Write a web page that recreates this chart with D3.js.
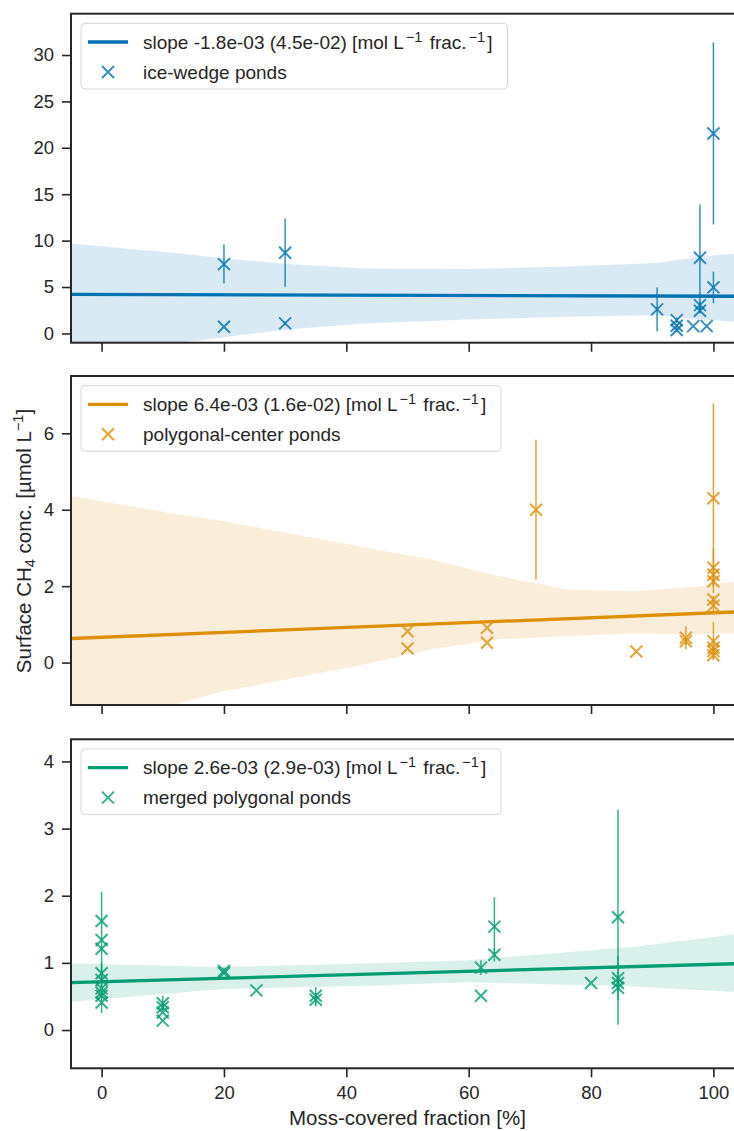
<!DOCTYPE html>
<html>
<head>
<meta charset="utf-8">
<script src="https://cdn.jsdelivr.net/npm/d3@7"></script>
<style>
  body { margin: 0; background: #fff; }
  text { font-family: "Liberation Sans", Arial, sans-serif; fill: #262626; }
</style>
</head>
<body>
<script>
// ice-wedge ponds
var iceX = [20, 20, 30, 30, 90.8, 94, 94, 94, 96.7, 97.8, 97.8, 97.8, 98.9, 100, 100];
var iceY = [7.47, 0.71, 8.69, 1.08, 2.59, 1.43, 0.82, 0.36, 0.79, 8.15, 3.05, 2.44, 0.79, 21.55, 4.96];
var iceErr = [2.1, 0, 3.7, 0.2, 2.35, 0.3, 0.2, 0.2, 0, 5.75, 0.4, 0.3, 0, 9.8, 1.7];
var iceFit = [4.19, -0.0018]; // intercept, slope
var iceBand = [[-5, -2.6, 9.7], [13, -1.0, 8.6], [20, -0.4, 8.1], [30, 0.4, 7.5], [43, 1.08, 7.0],
  [60, 1.5, 6.95], [76, 1.8, 7.2], [90.6, 1.97, 7.6], [98, 1.5, 8.25], [105, 1.2, 8.7]];

// polygonal-center ponds
var pcX = [50, 50, 63, 63, 71, 87.4, 95.5, 95.5, 100, 100, 100, 100, 100, 100, 100, 100, 100, 100];
var pcY = [0.82, 0.37, 0.91, 0.52, 4.0, 0.29, 0.65, 0.56, 4.3, 2.48, 2.3, 2.13, 1.65, 1.49, 0.56, 0.39, 0.3, 0.19];
var pcErr = [0, 0, 0, 0, 1.83, 0, 0.3, 0.1, 2.48, 0.5, 0.1, 0.1, 0.1, 0.2, 0.5, 0.1, 0.1, 0.1];
var pcFit = [0.662, 0.0064];
var pcBand = [[-5, -2.8, 4.36], [11.7, -1.11, 3.9], [20, -0.75, 3.7], [43.4, -0.04, 3.0], [54, 0.35, 2.7],
  [65, 0.61, 2.26], [76, 0.69, 1.91], [87, 0.76, 1.87], [97.8, 0.74, 2.0], [105, 0.78, 2.15]];

// merged polygonal ponds
var mpX = [0, 0, 0, 0, 0, 0, 0, 0, 0, 10, 10, 10, 10, 20, 20, 25.3, 35, 35, 62, 62, 64.2, 64.2, 80, 84.4, 84.4, 84.4, 84.4];
var mpY = [1.625, 1.34, 1.21, 0.845, 0.745, 0.62, 0.56, 0.51, 0.41, 0.4, 0.34, 0.26, 0.14, 0.88, 0.85, 0.59, 0.51, 0.45,
  0.93, 0.51, 1.54, 1.12, 0.7, 1.68, 0.77, 0.7, 0.63];
var mpErr = [0, 0.72, 0, 0.15, 0, 0, 0.31, 0, 0, 0.11, 0.05, 0, 0, 0.05, 0, 0, 0.13, 0.1,
  0.11, 0, 0.44, 0.1, 0, 1.6, 0.33, 0.1, 0];
var mpFit = [0.718, 0.0026];
var mpBand = [[-5, 0.42, 0.99], [20, 0.61, 0.94], [43.4, 0.66, 0.99], [59.7, 0.71, 1.04], [87, 0.65, 1.24], [105, 0.56, 1.44]];

var xTicks = [0, 20, 40, 60, 80, 100];
var sup = "\u22121";

var panels = [
  { x: iceX, y: iceY, err: iceErr, fit: iceFit, band: iceBand, color: "#0173b2",
    ydom: [-1.0, 34.45], yticks: [0, 5, 10, 15, 20, 25, 30], top: 13.7,
    slope: "slope -1.8e-03 (4.5e-02) [mol L", name: "ice-wedge ponds" },
  { x: pcX, y: pcY, err: pcErr, fit: pcFit, band: pcBand, color: "#de8f05",
    ydom: [-1.11, 7.5], yticks: [0, 2, 4, 6], top: 376,
    slope: "slope 6.4e-03 (1.6e-02) [mol L", name: "polygonal-center ponds" },
  { x: mpX, y: mpY, err: mpErr, fit: mpFit, band: mpBand, color: "#029e73",
    ydom: [-0.57, 4.33], yticks: [0, 1, 2, 3, 4], top: 739.3,
    slope: "slope 2.6e-03 (2.9e-03) [mol L", name: "merged polygonal ponds" }
];

var W = 734, H = 1131, left = 71, right = 744, ph = 329;
var tickFont = "18.5px", legFont = "19px", supFont = "14.5px", labFont = "20.5px";
var svg = d3.select("body").append("svg").attr("width", W).attr("height", H);
var x = d3.scaleLinear().domain([-5, 105]).range([left, right]);

function xmark(g, cx, cy, s, color, op) {
  g.append("path")
    .attr("d", "M" + (cx - s) + "," + (cy - s) + "L" + (cx + s) + "," + (cy + s) +
      "M" + (cx - s) + "," + (cy + s) + "L" + (cx + s) + "," + (cy - s))
    .attr("stroke", color).attr("stroke-width", 2).attr("fill", "none").attr("opacity", op);
}

panels.forEach(function (p, i) {
  var top = p.top, bottom = top + ph;
  var y = d3.scaleLinear().domain(p.ydom).range([bottom, top]);
  var g = svg.append("g");
  var clipId = "clip" + i;
  svg.append("clipPath").attr("id", clipId).append("rect")
    .attr("x", left).attr("y", top).attr("width", right - left).attr("height", ph);
  var plot = g.append("g").attr("clip-path", "url(#" + clipId + ")");

  // confidence band
  plot.append("path").datum(p.band)
    .attr("d", d3.area().x(function (d) { return x(d[0]); })
      .y0(function (d) { return y(d[1]); }).y1(function (d) { return y(d[2]); }))
    .attr("fill", p.color).attr("fill-opacity", 0.15);

  // error bars + markers
  p.x.forEach(function (xv, k) {
    if (p.err[k] > 0) {
      plot.append("line")
        .attr("x1", x(xv)).attr("x2", x(xv))
        .attr("y1", y(p.y[k] - p.err[k])).attr("y2", y(p.y[k] + p.err[k]))
        .attr("stroke", p.color).attr("stroke-width", 1.5).attr("opacity", 0.8);
    }
    xmark(plot, x(xv), y(p.y[k]), 6, p.color, 0.8);
  });

  // fit line
  plot.append("line")
    .attr("x1", x(-5)).attr("x2", x(105))
    .attr("y1", y(p.fit[0] + p.fit[1] * -5)).attr("y2", y(p.fit[0] + p.fit[1] * 105))
    .attr("stroke", p.color).attr("stroke-width", 3.3);

  // axes
  var ya = g.append("g").attr("transform", "translate(" + left + ",0)")
    .call(d3.axisLeft(y).tickValues(p.yticks).tickSize(9).tickPadding(8).tickFormat(d3.format("d")));
  var xa = g.append("g").attr("transform", "translate(0," + bottom + ")")
    .call(d3.axisBottom(x).tickValues(xTicks).tickSize(9).tickPadding(8.5)
      .tickFormat(i === 2 ? d3.format("d") : function () { return ""; }));
  [ya, xa].forEach(function (a) {
    a.select(".domain").remove();
    a.selectAll(".tick line").attr("stroke", "#262626").attr("stroke-width", 1.6);
    a.selectAll(".tick text").attr("font-size", tickFont).attr("fill", "#262626")
      .style("font-family", "'Liberation Sans', Arial, sans-serif");
  });

  // spines
  g.append("rect").attr("x", left).attr("y", top).attr("width", right - left).attr("height", ph)
    .attr("fill", "none").attr("stroke", "#262626").attr("stroke-width", 2);

  // legend
  var lg = g.append("g").attr("transform", "translate(81," + (top + 9.6) + ")");
  var box = lg.append("rect").attr("height", 65.7).attr("rx", 4)
    .attr("fill", "#fff").attr("fill-opacity", 0.8).attr("stroke", "#d6d6d6").attr("stroke-width", 1);
  lg.append("line").attr("x1", 7).attr("x2", 47).attr("y1", 18.7).attr("y2", 18.7)
    .attr("stroke", p.color).attr("stroke-width", 3.3);
  xmark(lg, 27, 48.7, 6, p.color, 0.8);
  var t1 = lg.append("text").attr("x", 62).attr("y", 25.4).attr("font-size", legFont);
  t1.append("tspan").text(p.slope);
  t1.append("tspan").attr("dx", 2).attr("dy", -7).attr("font-size", supFont).text(sup);
  t1.append("tspan").attr("dx", 2).attr("dy", 7).text(" frac.");
  t1.append("tspan").attr("dx", 2).attr("dy", -7).attr("font-size", supFont).text(sup);
  t1.append("tspan").attr("dx", 2).attr("dy", 7).text("]");
  lg.append("text").attr("x", 62).attr("y", 55.4).attr("font-size", legFont).text(p.name);
  var tw = t1.node().getBBox().width;
  box.attr("width", 62 + tw + 15);
});

// axis labels
svg.append("text").attr("x", (left + right) / 2).attr("y", 1124.5).attr("text-anchor", "middle")
  .attr("font-size", labFont).text("Moss-covered fraction [%]");

var yl = svg.append("text").attr("transform", "translate(31,541) rotate(-90)")
  .attr("text-anchor", "middle").attr("font-size", labFont);
yl.append("tspan").text("Surface CH");
yl.append("tspan").attr("dy", 4).attr("font-size", "14.5px").text("4");
yl.append("tspan").attr("dy", -4).text(" conc. [\u00b5mol L");
yl.append("tspan").attr("dy", -8).attr("font-size", "14.5px").text(sup);
yl.append("tspan").attr("dy", 8).text("]");
</script>
</body>
</html>
